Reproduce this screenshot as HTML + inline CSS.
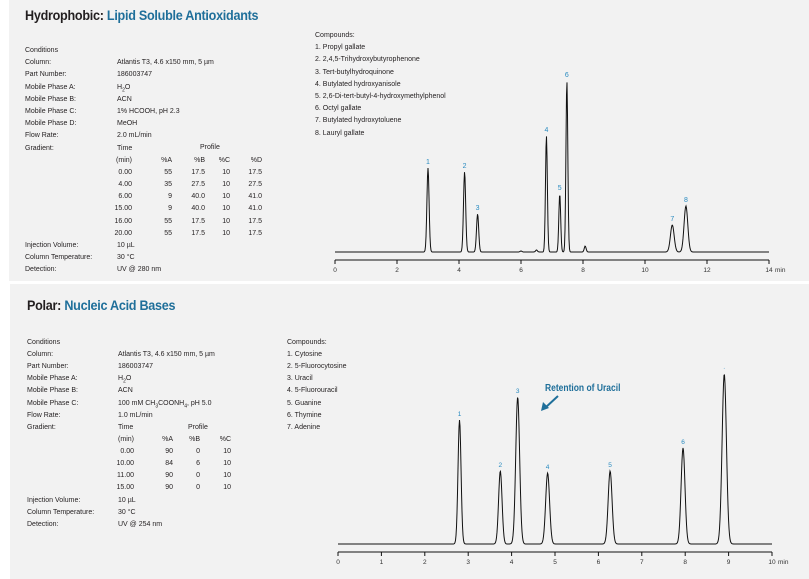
<!DOCTYPE html>
<html><head><meta charset="utf-8"><style>
body{margin:0;width:809px;height:579px;background:#fff;position:relative;overflow:hidden;font-family:"Liberation Sans",sans-serif;color:#231f20}
.p{position:absolute;background:#f2f2f2}
.t{position:absolute;font-size:7px;line-height:8px;white-space:nowrap}
.r{text-align:right}
.h{position:absolute;font-size:14px;font-weight:bold;letter-spacing:-0.3px;white-space:nowrap;transform:scaleX(0.9);transform-origin:left}
.h span{color:#1f6f9a}
svg{position:absolute;left:0;top:0}
</style></head><body>
<div class="p" style="left:9px;top:0;width:800px;height:281px"></div>
<div class="p" style="left:10px;top:284px;width:799px;height:295px"></div>
<div class="h" style="left:25px;top:7px">Hydrophobic: <span>Lipid Soluble Antioxidants</span></div>
<div class="h" style="left:27px;top:297px">Polar: <span>Nucleic Acid Bases</span></div>
<div id="txt"></div>
<svg width="809" height="579" id="sv"></svg>
<script>
var T=document.getElementById('txt'),h='';
function t(x,y,s,r){h+='<div class="t'+(r?' r':'')+'" style="'+(r?'left:'+(x-60)+'px;width:60px':'left:'+x+'px')+';top:'+(y-4)+'px">'+s+'</div>';}
// top
var L=["Conditions","Column:","Part Number:","Mobile Phase A:","Mobile Phase B:","Mobile Phase C:","Mobile Phase D:","Flow Rate:","Gradient:"];
var V=["","Atlantis T3, 4.6 x150 mm, 5 µm","186003747","H<sub style='font-size:5px'>2</sub>O","ACN","1% HCOOH, pH 2.3","MeOH","2.0 mL/min","Time"];
for(var i=0;i<9;i++){t(25,51+i*12.2,L[i]);t(117,51+i*12.2,V[i]);}
t(200,148,"Profile");
var rows=[["(min)","%A","%B","%C","%D"],["0.00","55","17.5","10","17.5"],["4.00","35","27.5","10","27.5"],["6.00","9","40.0","10","41.0"],["15.00","9","40.0","10","41.0"],["16.00","55","17.5","10","17.5"],["20.00","55","17.5","10","17.5"]];
var cx=[132,172,205,230,262];
rows.forEach(function(r,j){r.forEach(function(c,k){t(cx[k],160.5+j*12.2,c,1);});});
t(25,246,"Injection Volume:");t(117,246,"10 µL");t(25,258,"Column Temperature:");t(117,258,"30 °C");t(25,270,"Detection:");t(117,270,"UV @ 280 nm");
var C=["Compounds:","1. Propyl gallate","2. 2,4,5-Trihydroxybutyrophenone","3. Tert-butylhydroquinone","4. Butylated hydroxyanisole","5. 2,6-Di-tert-butyl-4-hydroxymethylphenol","6. Octyl gallate","7. Butylated hydroxytoluene","8. Lauryl gallate"];
C.forEach(function(c,i){t(315,36+i*12.2,c);});
// bottom
var L2=["Conditions","Column:","Part Number:","Mobile Phase A:","Mobile Phase B:","Mobile Phase C:","Flow Rate:","Gradient:"];
var V2=["","Atlantis T3, 4.6 x150 mm, 5 µm","186003747","H<sub style='font-size:5px'>2</sub>O","ACN","100 mM CH<sub style='font-size:5px'>3</sub>COONH<sub style='font-size:5px'>4</sub>, pH 5.0","1.0 mL/min","Time"];
for(i=0;i<8;i++){t(27,343+i*12.1,L2[i]);t(118,343+i*12.1,V2[i]);}
t(188,427.7,"Profile");
var rows2=[["(min)","%A","%B","%C"],["0.00","90","0","10"],["10.00","84","6","10"],["11.00","90","0","10"],["15.00","90","0","10"]];
var cx2=[134,173,200,231];
rows2.forEach(function(r,j){r.forEach(function(c,k){t(cx2[k],440+j*12.1,c,1);});});
t(27,500.5,"Injection Volume:");t(118,500.5,"10 µL");t(27,512.6,"Column Temperature:");t(118,512.6,"30 °C");t(27,524.7,"Detection:");t(118,524.7,"UV @ 254 nm");
var C2=["Compounds:","1. Cytosine","2. 5-Fluorocytosine","3. Uracil","4. 5-Fluorouracil","5. Guanine","6. Thymine","7. Adenine"];
C2.forEach(function(c,i){t(287,343+i*12.1,c);});
T.innerHTML=h;
var s='';
function chart(x0,pxm,tmax,base,axy,peaks,sig,lbly,unitx){
 var d='M'+x0+' '+base;
 for(var x=x0;x<=x0+tmax*pxm;x+=0.5){var tt=(x-x0)/pxm,y=base;
  peaks.forEach(function(p){y-= (base-p[1])*Math.exp(-Math.pow((tt-p[0])/p[2],2)/2);});
  d+=' L'+x.toFixed(1)+' '+y.toFixed(1);}
 s+='<path d="'+d+'" fill="none" stroke="#111" stroke-width="1"/>';
 s+='<line x1="'+x0+'" y1="'+axy+'" x2="'+(x0+tmax*pxm)+'" y2="'+axy+'" stroke="#111" stroke-width="1"/>';
 return function(step){for(var k=0;k<=tmax;k+=step){var xx=x0+k*pxm;s+='<line x1="'+xx+'" y1="'+axy+'" x2="'+xx+'" y2="'+(axy+4)+'" stroke="#111"/>';
  s+='<text x="'+xx+'" y="'+lbly+'" font-size="6.5" text-anchor="middle" fill="#333">'+k+(k==tmax?'':'')+'</text>';}
  s+='<text x="'+(x0+tmax*pxm+6)+'" y="'+lbly+'" font-size="6.5" fill="#333">min</text>';};
}
var p1=[[3.0,168,.035,'1'],[4.18,172,.035,'2'],[4.6,214,.035,'3'],[6.5,250,.03],[6.0,251,.03],[6.82,136,.03,'4'],[7.25,194,.03,'5'],[7.48,81,.03,'6'],[8.07,246,.03],[10.88,225,.06,'7'],[11.32,206,.06,'8']];
chart(335,31,14,252,260,p1,0,272)(2);
p1.forEach(function(p){if(p[3])s+='<text x="'+(335+p[0]*31)+'" y="'+(p[1]-4)+'" font-size="7" text-anchor="middle" fill="#2a8bc0">'+p[3]+'</text>';});
var p2=[[2.8,420,.035,'1'],[3.74,471,.04,'2'],[4.14,397,.045,'3'],[4.83,473,.045,'4'],[6.27,471,.045,'5'],[7.95,448,.045,'6'],[8.9,374,.05,'\u00b7']];
chart(338,43.4,10,544,552,p2,0,564)(1);
p2.forEach(function(p){s+='<text x="'+(338+p[0]*43.4)+'" y="'+(p[1]-4)+'" font-size="6.5" text-anchor="middle" fill="#2a8bc0">'+p[3]+'</text>';});
s+='<text x="545" y="391" font-size="10" font-weight="bold" fill="#1f6f9a" transform="translate(545 0) scale(0.85 1) translate(-545 0)">Retention of Uracil</text>';
s+='<line x1="558" y1="396" x2="545" y2="408" stroke="#1f6f9a" stroke-width="2"/><path d="M541 411 L543 402 L549 408 Z" fill="#1f6f9a"/>';
document.getElementById('sv').innerHTML=s;
</script>
</body></html>
